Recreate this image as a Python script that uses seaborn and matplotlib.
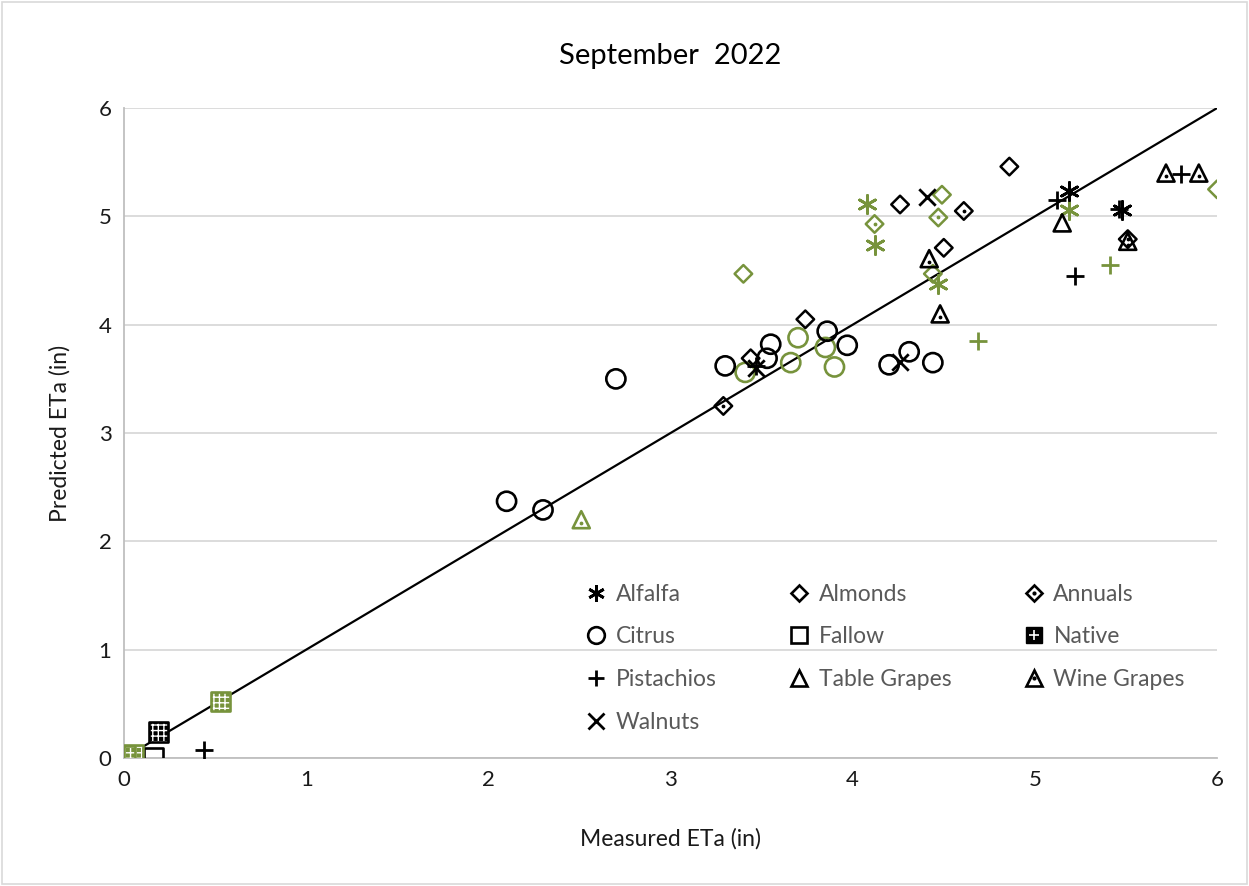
import matplotlib.pyplot as plt
import matplotlib.patches as mpatches
from matplotlib.lines import Line2D
import pandas as pd
import seaborn as sns

# black series
alfalfa_x = [5.19, 5.48]
alfalfa_y = [5.23, 5.06]
almonds_x = [4.86, 4.26, 4.50, 3.74, 3.44]
almonds_y = [5.46, 5.11, 4.71, 4.05, 3.69]
annuals_x = [4.61, 3.29, 5.51]
annuals_y = [5.05, 3.25, 4.79]
citrus_x = [2.10, 2.30, 2.70, 3.30, 3.55, 3.53, 3.86, 3.97, 4.20, 4.31, 4.44]
citrus_y = [2.37, 2.29, 3.50, 3.62, 3.82, 3.69, 3.94, 3.81, 3.63, 3.75, 3.65]
fallow_x = [0.16]
fallow_y = [0.00]
native_x = [0.19]
native_y = [0.24]
pistachios_x = [0.44, 3.47, 5.12, 5.22, 5.80, 5.46]
pistachios_y = [0.07, 3.62, 5.15, 4.45, 5.39, 5.07]
table_x = [5.15]
table_y = [4.94]
wine_x = [4.42, 4.48, 5.72, 5.90, 5.51]
wine_y = [4.61, 4.10, 5.40, 5.40, 4.77]
walnuts_x = [4.41, 3.47, 4.26]
walnuts_y = [5.18, 3.60, 3.66]

# green series
alfalfa_g_x = [4.08, 4.12, 4.47, 5.19]
alfalfa_g_y = [5.11, 4.74, 4.38, 5.06]
almonds_g_x = [3.40, 4.49, 6.00, 4.44]
almonds_g_y = [4.47, 5.20, 5.25, 4.47]
annuals_g_x = [4.12, 4.47]
annuals_g_y = [4.93, 4.99]
citrus_g_x = [3.41, 3.70, 3.66, 3.85, 3.90]
citrus_g_y = [3.56, 3.88, 3.65, 3.79, 3.61]
native_g_x = [0.01, 0.53, 0.05]
native_g_y = [0.02, 0.52, 0.03]
pistachios_g_x = [4.69, 5.41]
pistachios_g_y = [3.85, 4.55]
wine_g_x = [2.51]
wine_g_y = [2.20]

crops = ["Alfalfa", "Almonds", "Annuals", "Citrus", "Fallow", "Native",
         "Pistachios", "Table Grapes", "Wine Grapes", "Walnuts"]

BLACK = "#000000"
GREEN = "#77933c"

fig = plt.figure(figsize=(12.49, 8.86), dpi=100)
plt.rcParams['font.family'] = ['Lato', 'DejaVu Sans']
ax = fig.add_axes([0.0993, 0.1445, 0.8751, 0.7335])

ax.plot([0, 6], [0, 6], color="black", lw=1.6, zorder=2)

style = {
    "Alfalfa": dict(marker=(6, 2, 0), s=170, lw=2.0, fill=False),
    "Almonds": dict(marker="D", s=80, lw=1.8, fill=False),
    "Annuals": dict(marker="D", s=80, lw=1.8, fill=False),
    "Citrus": dict(marker="o", s=190, lw=1.9, fill=False),
    "Fallow": dict(marker="s", s=190, lw=1.9, fill=False),
    "Native": dict(marker="s", s=190, lw=1.9, fill=True),
    "Pistachios": dict(marker="+", s=160, lw=2.0, fill=False),
    "Table Grapes": dict(marker="^", s=150, lw=1.9, fill=False),
    "Wine Grapes": dict(marker="^", s=150, lw=1.9, fill=False),
    "Walnuts": dict(marker="x", s=140, lw=2.0, fill=False),
}


def draw(name, xs, ys, color):
    st = style[name]
    df = pd.DataFrame({"x": xs, "y": ys})
    if name == "Native":
        ax.scatter(df.x, df.y, marker="s", s=st["s"], facecolor=color,
                   edgecolor="white", hatch="+++", lw=0, zorder=3)
        ax.scatter(df.x, df.y, marker="s", s=st["s"], facecolor="none",
                   edgecolor=color, lw=st["lw"], zorder=4)
        return
    if st["fill"] is False and st["marker"] not in ("+", "x") and not isinstance(st["marker"], tuple):
        sns.scatterplot(data=df, x="x", y="y", ax=ax, marker=st["marker"], s=st["s"],
                        facecolor="none", edgecolor=color, linewidth=st["lw"], zorder=3)
    else:
        sns.scatterplot(data=df, x="x", y="y", ax=ax, marker=st["marker"], s=st["s"],
                        color=color, linewidth=st["lw"], zorder=3)
    if name in ("Annuals", "Wine Grapes"):
        dy = 0.0 if name == "Annuals" else -0.03
        ax.scatter(df.x, df.y + dy, marker=".", s=12, color=color, zorder=4)


black_sets = [("Alfalfa", alfalfa_x, alfalfa_y), ("Almonds", almonds_x, almonds_y),
              ("Annuals", annuals_x, annuals_y), ("Citrus", citrus_x, citrus_y),
              ("Fallow", fallow_x, fallow_y), ("Native", native_x, native_y),
              ("Pistachios", pistachios_x, pistachios_y), ("Table Grapes", table_x, table_y),
              ("Wine Grapes", wine_x, wine_y), ("Walnuts", walnuts_x, walnuts_y)]
green_sets = [("Alfalfa", alfalfa_g_x, alfalfa_g_y), ("Almonds", almonds_g_x, almonds_g_y),
              ("Annuals", annuals_g_x, annuals_g_y), ("Citrus", citrus_g_x, citrus_g_y),
              ("Native", native_g_x, native_g_y), ("Pistachios", pistachios_g_x, pistachios_g_y),
              ("Wine Grapes", wine_g_x, wine_g_y)]

for name, xs, ys in green_sets:
    draw(name, xs, ys, GREEN)
for name, xs, ys in black_sets:
    draw(name, xs, ys, BLACK)

ax.set_xlim(0, 6)
ax.set_ylim(0, 6)
ax.set_xticks(range(7))
ax.set_yticks(range(7))
ax.tick_params(length=0, labelsize=16, colors="#1a1a1a", pad=9)
ax.grid(axis="y", color="#d9d9d9", lw=1.3)
ax.set_axisbelow(True)
for sp in ["top", "right"]:
    ax.spines[sp].set_visible(False)
for sp in ["left", "bottom"]:
    ax.spines[sp].set_color("#bfbfbf")
    ax.spines[sp].set_linewidth(1.3)
ax.set_xlabel("Measured ETa (in)", fontsize=16.5, color="#1a1a1a", labelpad=27)
ax.set_ylabel("Predicted ETa (in)", fontsize=16.5, color="#1a1a1a", labelpad=20)
ax.set_title("September  2022", fontsize=21, color="black", pad=32)

# legend (black markers only), ordered column-wise to give row-wise layout
def handle(name):
    m = style[name]["marker"]
    if name == "Native":
        return (Line2D([], [], ls="none", marker="s", markersize=12, markerfacecolor="black",
                       markeredgecolor="black"),
                Line2D([], [], ls="none", marker="+", markersize=7, color="white",
                       markeredgewidth=1.2))
    if m in ("+", "x") or isinstance(m, tuple):
        return Line2D([], [], ls="none", marker=m, markersize=12, color="black", markeredgewidth=2)
    h = Line2D([], [], ls="none", marker=m, markersize=12 if m != "D" else 8.5,
               markerfacecolor="none", markeredgecolor="black", markeredgewidth=1.9)
    if name in ("Annuals", "Wine Grapes"):
        dot = Line2D([], [], ls="none", marker=".", markersize=4, color="black")
        return (h, dot)
    return h


order = ["Alfalfa", "Citrus", "Pistachios", "Walnuts", "Almonds", "Fallow", "Table Grapes",
         "Annuals", "Native", "Wine Grapes"]
leg = ax.legend([handle(n) for n in order], order, ncol=3, frameon=False,
                loc="upper left", bbox_to_anchor=(0.405, 0.3), fontsize=16.5,
                handlelength=0.8, handletextpad=0.45, columnspacing=3.2, labelspacing=0.95)
for t in leg.get_texts():
    t.set_color("#595959")

fig.patches.append(mpatches.Rectangle((0.002, 0.002), 0.996, 0.996, transform=fig.transFigure,
                                      fill=False, edgecolor="#d9d9d9", lw=1.2))

fig.savefig("out.png", dpi=100)
